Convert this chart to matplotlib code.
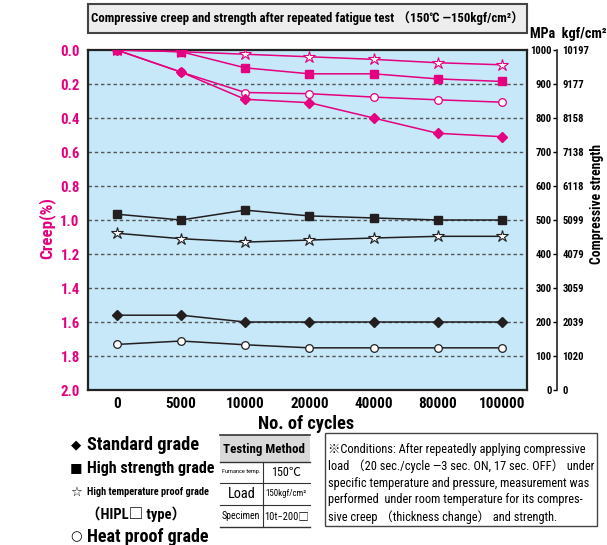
import matplotlib
matplotlib.use("Agg")
import matplotlib.pyplot as plt
from matplotlib import font_manager as fm
from matplotlib.patches import Rectangle
from matplotlib.lines import Line2D
import numpy as np

# ---------------- data ----------------
cycles = ['0', '5000', '10000', '20000', '40000', '80000', '100000']
creep_standard = [0.0, 0.13, 0.29, 0.31, 0.40, 0.49, 0.51]
creep_high_strength = [0.0, 0.01, 0.105, 0.14, 0.14, 0.17, 0.185]
creep_high_temp = [0.0, 0.01, 0.025, 0.04, 0.055, 0.075, 0.087]
creep_heat_proof = [0.0, 0.13, 0.25, 0.257, 0.277, 0.293, 0.307]
strength_standard = [220, 220, 200, 200, 200, 200, 200]
strength_high_strength = [517, 500, 529, 512, 506, 500, 500]
strength_high_temp = [461, 445, 435, 441, 447, 452, 452]
strength_heat_proof = [134, 144, 133, 124, 124, 124, 124]
creep_ticks = [0.0, 0.2, 0.4, 0.6, 0.8, 1.0, 1.2, 1.4, 1.6, 1.8, 2.0]
mpa_ticks = [0, 100, 200, 300, 400, 500, 600, 700, 800, 900, 1000]
kgf_labels = ['0', '1020', '2039', '3059', '4079', '5099', '6118', '7138', '8158', '9177', '10197']

# ---------------- fonts ----------------
names = {f.name for f in fm.fontManager.ttflist}
MAIN = 'DejaVu Sans'
for cand in ['Liberation Sans Narrow', 'Roboto Condensed', 'Open Sans Condensed', 'Roboto']:
    if cand in names:
        MAIN = cand
        break
FAM = [MAIN, 'Noto Sans CJK JP', 'DejaVu Sans']
plt.rcParams['font.family'] = FAM

PINK = '#E5007F'
BLACK = '#231F20'
BG = '#C6E8F8'

W, H = 607, 545
fig = plt.figure(figsize=(W / 100, H / 100), dpi=100)
renderer = fig.canvas.get_renderer()


def fx(x):
    return x / W


def fy(y):
    return 1 - y / H


def fit(text, target, weight='bold', base=10.0):
    """font size whose rendered width (px) equals target"""
    t = fig.text(0, 0, text, fontsize=base, fontweight=weight)
    w = t.get_window_extent(renderer).width
    t.remove()
    return base * target / w


L, R, T, B = 88, 527, 50, 390
ax = fig.add_axes([fx(L), fy(B), (R - L) / W, (B - T) / H])
ax.set_facecolor(BG)
x = np.arange(len(cycles))

# pink creep lines
lw = 1.1
ax.plot(x, creep_high_temp, color=PINK, lw=lw, marker='*', ms=9, mfc='white', mec=PINK, mew=0.8, zorder=3)
ax.plot(x, creep_heat_proof, color=PINK, lw=lw, marker='o', ms=5.5, mfc='white', mec=PINK, mew=0.9, zorder=3)
ax.plot(x, creep_high_strength, color=PINK, lw=lw, marker='s', ms=5.5, mfc=PINK, mec=PINK, zorder=4)
ax.plot(x, creep_standard, color=PINK, lw=lw, marker='D', ms=5.5, mfc=PINK, mec=PINK, zorder=4)

ax.set_xlim(-0.45, 6.39)
ax.set_ylim(2.0, 0.0)
ax.set_yticks(creep_ticks)
ax.set_yticklabels(['%.1f' % v for v in creep_ticks])
ax.set_xticks(x)
ax.set_xticklabels(cycles)
fs_x = fit('100000', 46)
fs_y = fit('0.0', 19.5)
ax.tick_params(axis='y', length=0, pad=6, labelcolor=PINK, labelsize=fs_y)
ax.tick_params(axis='x', length=0, pad=5, labelcolor='black', labelsize=fs_x)
for lab in ax.get_yticklabels() + ax.get_xticklabels():
    lab.set_fontweight('bold')
for yv in creep_ticks[1:-1]:
    ax.axhline(yv, color='#555555', lw=1.0, ls=(0, (2.5, 2)), zorder=1)
for s in ax.spines.values():
    s.set_linewidth(1.6)
    s.set_color('#222222')

# strength axis (MPa) with labels left of spine
pos = (557 - L) / (R - L)
fs_r = fit('1000', 21.5)
ax2 = ax.twinx()
ax2.set_ylim(0, 1000)
ax2.yaxis.tick_left()
ax2.spines['left'].set_position(('axes', pos))
for k in ['right', 'top', 'bottom']:
    ax2.spines[k].set_visible(False)
ax2.spines['left'].set_linewidth(1.2)
ax2.spines['left'].set_color('#222222')
ax2.set_yticks(mpa_ticks)
ax2.set_yticklabels([str(v) for v in mpa_ticks])
ax2.tick_params(axis='y', direction='out', length=3, width=1.0, pad=1, labelsize=fs_r)
for lab in ax2.get_yticklabels():
    lab.set_fontweight('bold')

ax2.plot(x, strength_high_strength, color=BLACK, lw=lw, marker='s', ms=5.5, mfc=BLACK, mec=BLACK, zorder=4)
ax2.plot(x, strength_high_temp, color=BLACK, lw=lw, marker='*', ms=9, mfc='white', mec=BLACK, mew=0.8, zorder=4)
ax2.plot(x, strength_standard, color=BLACK, lw=lw, marker='D', ms=5.5, mfc=BLACK, mec=BLACK, zorder=4)
ax2.plot(x, strength_heat_proof, color=BLACK, lw=lw, marker='o', ms=5.5, mfc='white', mec=BLACK, mew=0.9, zorder=4)

# kgf/cm2 labels right of spine
ax3 = ax.twinx()
ax3.set_ylim(0, 1000)
ax3.spines['right'].set_position(('axes', pos))
for k in ['left', 'right', 'top', 'bottom']:
    ax3.spines[k].set_visible(False)
ax3.set_yticks(mpa_ticks)
ax3.set_yticklabels(kgf_labels)
ax3.tick_params(axis='y', length=0, pad=4, labelsize=fit('10197', 27))
for lab in ax3.get_yticklabels():
    lab.set_fontweight('bold')

# axis titles
fig.text(fx(47), fy(228), 'Creep(%)', rotation=90, ha='center', va='center', color=PINK,
         fontsize=fit('Creep(%)', 62), fontweight='bold')
fig.text(fx(597), fy(204), 'Compressive strength', rotation=90, ha='center', va='center',
         fontsize=fit('Compressive strength', 120), fontweight='bold')
fig.text(fx(306), fy(424), 'No. of cycles', ha='center', va='center',
         fontsize=fit('No. of cycles', 96), fontweight='bold')
fig.text(fx(530), fy(34), 'MPa  kgf/cm²', ha='left', va='center',
         fontsize=fit('MPa  kgf/cm²', 77), fontweight='bold')

# title box
fig.patches.append(Rectangle((fx(88), fy(33)), (527 - 88) / W, (33 - 4) / H, transform=fig.transFigure,
                             fc='#EDEDED', ec='#444444', lw=1.5))
title = 'Compressive creep and strength after repeated fatigue test （150℃ —150kgf/cm²）'
fig.text(fx(307), fy(18.5), title, ha='center', va='center', fontsize=fit(title, 430), fontweight='bold')

# legend (text glyphs)
leg = [(445, '◆', 'Standard grade', 113),
       (468, '■', 'High strength grade', 128),
       (492, '☆', 'High temperature proof grade', 122)]
for yy, g, t, wd in leg:
    fig.text(fx(76), fy(yy), g, ha='center', va='center', fontsize=9.5, family=['DejaVu Sans'])
    fig.text(fx(87), fy(yy), t, ha='left', va='center', fontsize=fit(t, wd), fontweight='bold')
fig.text(fx(136), fy(514), '（HIPL□ type）', ha='center', va='center',
         fontsize=fit('（HIPL□ type）', 100), fontweight='bold')
fig.text(fx(76), fy(537), '○', ha='center', va='center', fontsize=9.5, family=['DejaVu Sans'])
fig.text(fx(87), fy(537), 'Heat proof grade', ha='left', va='center',
         fontsize=fit('Heat proof grade', 122), fontweight='bold')

# testing method table
tl, tr, tm = 220, 310, 263
fig.patches.append(Rectangle((fx(tl), fy(462)), (tr - tl) / W, (462 - 435) / H, transform=fig.transFigure,
                             fc='#D9D9D9', ec='none'))
for yy, lwd in [(435, 1.2), (462, 1.0), (483, 0.8), (505, 0.8), (527, 1.0)]:
    fig.lines.append(Line2D([fx(tl), fx(tr)], [fy(yy), fy(yy)], transform=fig.transFigure, color='#333333', lw=lwd))
fig.lines.append(Line2D([fx(tm), fx(tm)], [fy(462), fy(527)], transform=fig.transFigure, color='#333333', lw=0.8))
cells = [(264, 449, 'Testing Method', 82, 'bold'),
         (241, 472, 'Furnance temp.', 39, 'normal'),
         (286, 472, '150℃', 30, 'normal'),
         (242, 494, 'Load', 28, 'normal'),
         (286, 494, '150kgf/cm²', 41, 'normal'),
         (241, 516, 'Specimen', 38, 'normal'),
         (287, 516, '10t−200□', 44, 'normal')]
for cx, cy, t, wd, wt in cells:
    fig.text(fx(cx), fy(cy), t, ha='center', va='center', fontsize=fit(t, wd, weight=wt), fontweight=wt)

# conditions box
fig.patches.append(Rectangle((fx(325), fy(526)), (597 - 325) / W, (526 - 433) / H, transform=fig.transFigure,
                             fc='white', ec='#444444', lw=1.0))
cond = ['※Conditions: After repeatedly applying compressive',
        'load （20 sec./cycle —3 sec. ON, 17 sec. OFF） under',
        'specific temperature and pressure, measurement was',
        'performed  under room temperature for its compres-',
        'sive creep （thickness change） and strength.']
fs_c = min(fit(c, 266, weight='normal') for c in cond[:4])
for i, line in enumerate(cond):
    fig.text(fx(328), fy(449 + 17 * i), line, ha='left', va='center', fontsize=fs_c)

fig.savefig('out.png', dpi=100)
